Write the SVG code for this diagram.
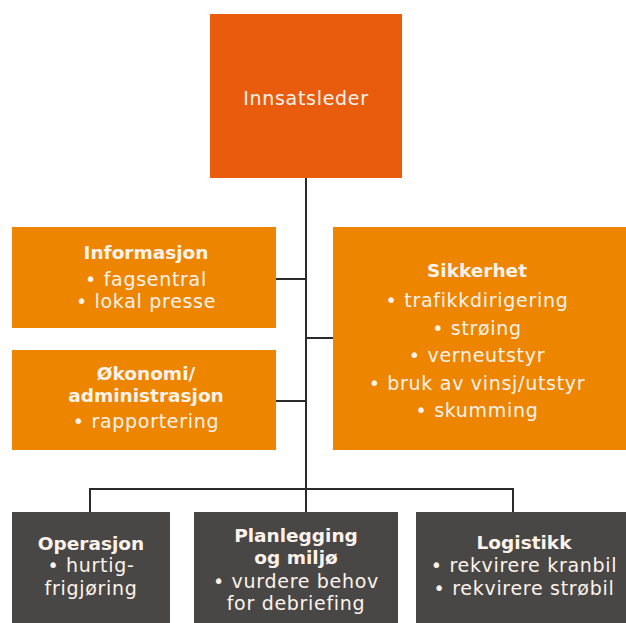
<svg xmlns="http://www.w3.org/2000/svg" width="626" height="623" viewBox="0 0 626 623">
<style>
.top{fill:#E95C0E}
.org{fill:#EE8500}
.drk{fill:#494745}
.ln{stroke:#2b2b2b;stroke-width:2;fill:none}
text{font-family:"DejaVu Sans","Liberation Sans",sans-serif;font-size:19px;letter-spacing:0.7px;fill:#fdf3ec;text-anchor:middle}
.b{font-weight:bold;font-size:18.5px;letter-spacing:0}
</style>
<g id="connectors">
<path class="ln" d="M306,178 V512"/>
<path class="ln" d="M276,279 H306"/>
<path class="ln" d="M276,401 H306"/>
<path class="ln" d="M306,338 H333"/>
<path class="ln" d="M90,512 V489 H513 V512"/>
</g>
<g id="innsatsleder">
<rect class="top" x="210" y="14" width="192" height="164"/>
<text x="306" y="105">Innsatsleder</text>
</g>
<g id="informasjon">
<rect class="org" x="12" y="227" width="264" height="101"/>
<text class="b" x="146" y="259">Informasjon</text>
<text x="146" y="286">• fagsentral</text>
<text x="146" y="308">• lokal presse</text>
</g>
<g id="okonomi">
<rect class="org" x="12" y="350" width="264" height="100"/>
<text class="b" x="146" y="380">Økonomi/</text>
<text class="b" x="146" y="402">administrasjon</text>
<text x="146" y="428">• rapportering</text>
</g>
<g id="sikkerhet">
<rect class="org" x="333" y="227" width="293" height="223"/>
<text class="b" x="477" y="277">Sikkerhet</text>
<text x="477" y="307">• trafikkdirigering</text>
<text x="477" y="335">• strøing</text>
<text x="477" y="362">• verneutstyr</text>
<text x="477" y="390">• bruk av vinsj/utstyr</text>
<text x="477" y="417">• skumming</text>
</g>
<g id="operasjon">
<rect class="drk" x="12" y="512" width="158" height="111"/>
<text class="b" x="91" y="550">Operasjon</text>
<text x="91" y="572">• hurtig-</text>
<text x="91" y="595">frigjøring</text>
</g>
<g id="planlegging">
<rect class="drk" x="194" y="512" width="204" height="111"/>
<text class="b" x="296" y="542">Planlegging</text>
<text class="b" x="296" y="564">og miljø</text>
<text x="296" y="588">• vurdere behov</text>
<text x="296" y="610">for debriefing</text>
</g>
<g id="logistikk">
<rect class="drk" x="416" y="512" width="210" height="111"/>
<text class="b" x="524" y="549">Logistikk</text>
<text x="524" y="572">• rekvirere kranbil</text>
<text x="524" y="595">• rekvirere strøbil</text>
</g>
</svg>
